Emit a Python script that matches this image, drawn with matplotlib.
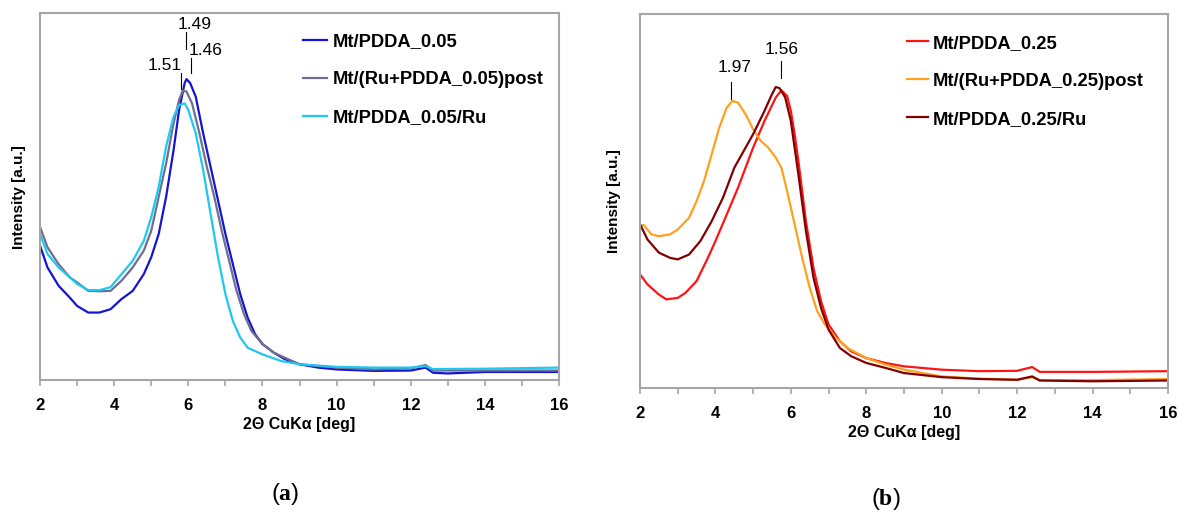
import numpy as np
import matplotlib
matplotlib.use('Agg')
import matplotlib.pyplot as plt

plt.rcParams['font.family'] = ['Liberation Sans', 'DejaVu Sans']
plt.rcParams['mathtext.fontset'] = 'custom'
plt.rcParams['mathtext.rm'] = 'Liberation Serif'
plt.rcParams['mathtext.bf'] = 'Liberation Serif:bold'

# ---- panel (a) ----
x_a1 = [2, 2.2, 2.5, 2.8, 3.0, 3.3, 3.6, 3.9, 4.2, 4.5, 4.8, 5.0, 5.2, 5.4, 5.6, 5.75, 5.9, 5.95,
        6.05, 6.2, 6.4, 6.6, 6.8, 7.0, 7.2, 7.4, 7.6, 7.8, 8.0, 8.3, 8.6, 9.0, 9.5, 10, 11, 12,
        12.4, 12.6, 13, 14, 15, 16]
y_a1 = [0.366, 0.307, 0.257, 0.225, 0.202, 0.184, 0.184, 0.193, 0.221, 0.243, 0.289, 0.335, 0.398,
        0.499, 0.626, 0.736, 0.809, 0.820, 0.809, 0.772, 0.672, 0.581, 0.490, 0.398, 0.316, 0.234,
        0.170, 0.125, 0.098, 0.075, 0.057, 0.043, 0.034, 0.029, 0.025, 0.026, 0.034, 0.020, 0.018,
        0.022, 0.022, 0.022]

x_a2 = [2, 2.2, 2.5, 2.8, 3.0, 3.3, 3.6, 3.9, 4.2, 4.5, 4.8, 5.0, 5.2, 5.4, 5.6, 5.75, 5.85, 5.95,
        6.1, 6.3, 6.5, 6.7, 6.9, 7.1, 7.3, 7.5, 7.7, 8.0, 8.3, 8.6, 9.0, 10, 11, 12, 12.4, 12.6,
        13, 14, 15, 16]
y_a2 = [0.417, 0.362, 0.316, 0.280, 0.266, 0.243, 0.242, 0.243, 0.271, 0.307, 0.353, 0.407, 0.499,
        0.590, 0.699, 0.763, 0.789, 0.786, 0.754, 0.672, 0.581, 0.499, 0.407, 0.325, 0.243, 0.180,
        0.134, 0.098, 0.075, 0.061, 0.043, 0.034, 0.029, 0.032, 0.041, 0.026, 0.026, 0.026, 0.026,
        0.026]

x_a3 = [2, 2.2, 2.5, 2.8, 3.0, 3.3, 3.6, 3.9, 4.2, 4.5, 4.8, 5.0, 5.2, 5.4, 5.6, 5.75, 5.9, 6.0,
        6.2, 6.4, 6.6, 6.8, 7.0, 7.2, 7.4, 7.6, 8.0, 8.5, 9, 10, 11, 12, 12.4, 12.6, 14, 16]
y_a3 = [0.398, 0.344, 0.307, 0.280, 0.262, 0.245, 0.245, 0.253, 0.289, 0.325, 0.380, 0.444, 0.526,
        0.636, 0.717, 0.749, 0.754, 0.736, 0.672, 0.572, 0.453, 0.335, 0.234, 0.161, 0.116, 0.088,
        0.070, 0.052, 0.043, 0.036, 0.034, 0.034, 0.038, 0.030, 0.031, 0.034]

# ---- panel (b) ----
x_b1 = [2, 2.2, 2.5, 2.7, 3.0, 3.2, 3.5, 3.8, 4.0, 4.3, 4.6, 5.0, 5.3, 5.6, 5.75, 5.9, 6.0, 6.1,
        6.2, 6.4, 6.6, 6.8, 7.0, 7.3, 7.6, 8.0, 8.5, 9, 10, 11, 12, 12.4, 12.6, 14, 16]
y_b1 = [0.304, 0.277, 0.250, 0.237, 0.241, 0.254, 0.286, 0.348, 0.393, 0.464, 0.536, 0.643, 0.714,
        0.777, 0.796, 0.781, 0.741, 0.679, 0.607, 0.446, 0.321, 0.232, 0.170, 0.125, 0.098, 0.080,
        0.067, 0.058, 0.049, 0.045, 0.046, 0.056, 0.043, 0.043, 0.045]

x_b2 = [2, 2.1, 2.3, 2.5, 2.8, 3.0, 3.3, 3.5, 3.7, 3.9, 4.1, 4.3, 4.45, 4.6, 4.8, 5.0, 5.2, 5.4,
        5.6, 5.75, 5.9, 6.1, 6.3, 6.5, 6.7, 6.9, 7.2, 7.5, 8.0, 8.5, 9, 10, 11, 12, 12.4, 12.6,
        14, 16]
y_b2 = [0.433, 0.436, 0.411, 0.406, 0.411, 0.424, 0.455, 0.500, 0.554, 0.625, 0.696, 0.750, 0.768,
        0.763, 0.732, 0.692, 0.661, 0.643, 0.616, 0.589, 0.527, 0.438, 0.348, 0.268, 0.205, 0.170,
        0.134, 0.107, 0.080, 0.063, 0.049, 0.031, 0.025, 0.022, 0.029, 0.021, 0.021, 0.024]

x_b3 = [2, 2.2, 2.5, 2.8, 3.0, 3.3, 3.6, 3.9, 4.2, 4.5, 4.8, 5.0, 5.3, 5.5, 5.6, 5.7, 5.85, 6.0,
        6.2, 6.4, 6.6, 6.8, 7.0, 7.3, 7.6, 8.0, 8.5, 9, 10, 11, 12, 12.4, 12.6, 14, 16]
y_b3 = [0.438, 0.397, 0.362, 0.348, 0.344, 0.357, 0.393, 0.446, 0.509, 0.589, 0.643, 0.679, 0.741,
        0.786, 0.805, 0.802, 0.777, 0.714, 0.571, 0.420, 0.295, 0.214, 0.156, 0.107, 0.085, 0.067,
        0.054, 0.040, 0.029, 0.024, 0.022, 0.031, 0.020, 0.018, 0.020]

labels_a = ['Mt/PDDA_0.05', 'Mt/(Ru+PDDA_0.05)post', 'Mt/PDDA_0.05/Ru']
labels_b = ['Mt/PDDA_0.25', 'Mt/(Ru+PDDA_0.25)post', 'Mt/PDDA_0.25/Ru']
colors_a = ['#1414d2', '#6e6e90', '#1ec8f0']
colors_b = ['#ff1414', '#ffa01e', '#820000']

# peak annotations: (line x, line y0, line y1, text x, text y, label)
ann_a = [(5.93, 0.902, 0.948, 6.17, 0.970, '1.49'),
         (6.07, 0.837, 0.877, 6.47, 0.899, '1.46'),
         (5.80, 0.793, 0.837, 5.37, 0.858, '1.51')]
ann_b = [(5.73, 0.830, 0.875, 5.75, 0.906, '1.56'),
         (4.41, 0.774, 0.819, 4.51, 0.857, '1.97')]

fig = plt.figure(figsize=(11.78, 5.15), dpi=100)
ax1 = fig.add_axes([0.034, 0.262, 0.4406, 0.7126])
ax2 = fig.add_axes([0.5433, 0.2466, 0.4482, 0.726])

def style(ax, ylab_x):
    ax.set_xlim(2, 16)
    ax.set_ylim(0, 1)
    ax.set_xticks(np.arange(2, 17, 2))
    ax.set_xticks(np.arange(2, 17, 1), minor=True)
    ax.set_yticks([])
    for s in ax.spines.values():
        s.set_color('#a6a6a6')
        s.set_linewidth(1.5)
    ax.tick_params(axis='x', which='both', direction='out', length=4, width=1.2,
                   color='#a6a6a6', pad=9)
    for t in ax.get_xticklabels():
        t.set_fontweight('bold')
        t.set_fontsize(12)
    ax.set_xlabel('2\u0398 CuK\u03b1 [deg]', fontsize=11.5, fontweight='bold', labelpad=3)
    ax.set_ylabel('Intensity [a.u.]', fontsize=11, fontweight='bold', labelpad=ylab_x)

style(ax1, 10)
style(ax2, 14)

for xs, ys, c, l in zip([x_a1, x_a2, x_a3], [y_a1, y_a2, y_a3], colors_a, labels_a):
    ax1.plot(xs, ys, color=c, lw=1.6, label=l)
for xs, ys, c, l in zip([x_b1, x_b2, x_b3], [y_b1, y_b2, y_b3], colors_b, labels_b):
    ax2.plot(xs, ys, color=c, lw=1.6, label=l)

for ax, ann in [(ax1, ann_a), (ax2, ann_b)]:
    for lx, y0, y1, tx, ty, s in ann:
        ax.plot([lx, lx], [y0, y1], color='black', lw=0.8)
        ax.text(tx, ty, s, ha='center', va='center', fontsize=12.5)

leg_kw = dict(frameon=False, loc='upper left', handletextpad=0.3,
              labelspacing=1.15, borderpad=0, borderaxespad=0,
              prop={'weight': 'bold', 'size': 13.2})
ax1.legend(bbox_to_anchor=(0.507, 0.945), handlelength=1.3, **leg_kw)
ax2.legend(bbox_to_anchor=(0.505, 0.945), handlelength=1.15, **leg_kw)

fig.text(0.242, 0.04, r'($\mathbf{a}$)', ha='center', va='center', fontsize=17)
fig.text(0.752, 0.005, r'($\mathbf{b}$)', ha='center', va='bottom', fontsize=17)

fig.savefig('out.png', dpi=100)
